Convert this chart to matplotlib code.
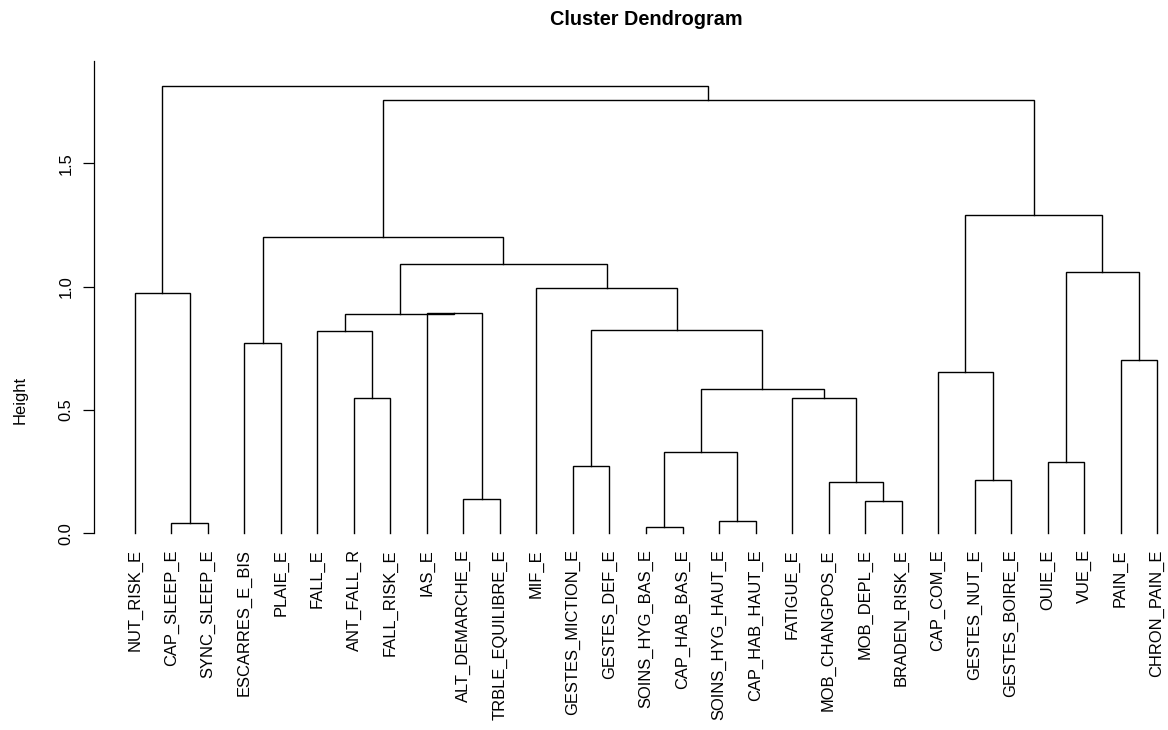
import matplotlib
matplotlib.use("Agg")
import matplotlib.pyplot as plt

plt.rcParams['font.family'] = ['Liberation Sans', 'DejaVu Sans']

# leaf labels, left to right
labels = [
    "NUT_RISK_E", "CAP_SLEEP_E", "SYNC_SLEEP_E", "ESCARRES_E_BIS", "PLAIE_E",
    "FALL_E", "ANT_FALL_R", "FALL_RISK_E", "IAS_E", "ALT_DEMARCHE_E",
    "TRBLE_EQUILIBRE_E", "MIF_E", "GESTES_MICTION_E", "GESTES_DEF_E",
    "SOINS_HYG_BAS_E", "CAP_HAB_BAS_E", "SOINS_HYG_HAUT_E", "CAP_HAB_HAUT_E",
    "FATIGUE_E", "MOB_CHANGPOS_E", "MOB_DEPL_E", "BRADEN_RISK_E", "CAP_COM_E",
    "GESTES_NUT_E", "GESTES_BOIRE_E", "OUIE_E", "VUE_E", "PAIN_E", "CHRON_PAIN_E",
]

# hclust style merge table: negative = leaf number, positive = earlier merge row (1-based)
merge_left = [-15, -2, -17, -21, -10, -20, -24, -13, -26, 1, -7, -19, 10, -23,
              -28, -4, -6, 8, -9, 17, -1, -12, 9, 20, 16, 14, 25, 21]
merge_right = [-16, -3, -18, -22, -11, 4, -25, -14, -27, 3, -8, 6, 12, 7,
               -29, -5, 11, 13, 5, 19, 2, 18, 15, 22, 24, 23, 26, 27]
heights = [0.027, 0.042, 0.050, 0.132, 0.138, 0.207, 0.2175, 0.273, 0.289, 0.3285,
           0.550, 0.550, 0.584, 0.654, 0.7015, 0.773, 0.820, 0.823, 0.895, 0.889,
           0.973, 0.996, 1.058, 1.091, 1.2015, 1.2895, 1.758, 1.813]

yticks = [0.0, 0.5, 1.0, 1.5]

W, H = 1168, 730
fig = plt.figure(figsize=(W / 100, H / 100), dpi=100)
# plot region in pixels: left 94, right 1198, top 61, bottom 739
ax = fig.add_axes([94.1 / W, (H - 739) / H, (1197.9 - 94.1) / W, (739 - 61) / H])
ax.set_xlim(-0.12, 30.12)
ax.set_ylim(-0.834, 1.915)

node_x, node_y = [], []


def pos(ref):
    if ref < 0:
        return -ref, 0.0
    return node_x[ref - 1], node_y[ref - 1]


for l, r, h in zip(merge_left, merge_right, heights):
    xl, yl = pos(l)
    xr, yr = pos(r)
    ax.plot([xl, xl, xr, xr], [yl, h, h, yr], color="black", lw=1.0,
            solid_joinstyle="miter", clip_on=False)
    node_x.append((xl + xr) / 2)
    node_y.append(h)

for i, lab in enumerate(labels):
    ax.text(i + 1, -0.065, lab, rotation=90, ha="center", va="top", fontsize=11.9)

for s in ["top", "right", "bottom"]:
    ax.spines[s].set_visible(False)
ax.spines["left"].set_bounds(0, 1.915)
ax.spines["left"].set_linewidth(0.9)
ax.set_xticks([])
ax.set_yticks(yticks)
ax.set_yticklabels(["%.1f" % v for v in yticks])
ax.tick_params(axis="y", length=7.9, width=0.9, pad=7, labelsize=11.9, labelrotation=90)
for t in ax.get_yticklabels():
    t.set_va("center")

fig.text(20.3 / W, 1 - 400 / H, "Height", rotation=90, ha="center", va="center", fontsize=11.9)
fig.text(646 / W, 1 - 19.5 / H, "Cluster Dendrogram", ha="center", va="center",
         fontsize=14.3, fontweight="bold")

fig.savefig("out.png", dpi=100)
